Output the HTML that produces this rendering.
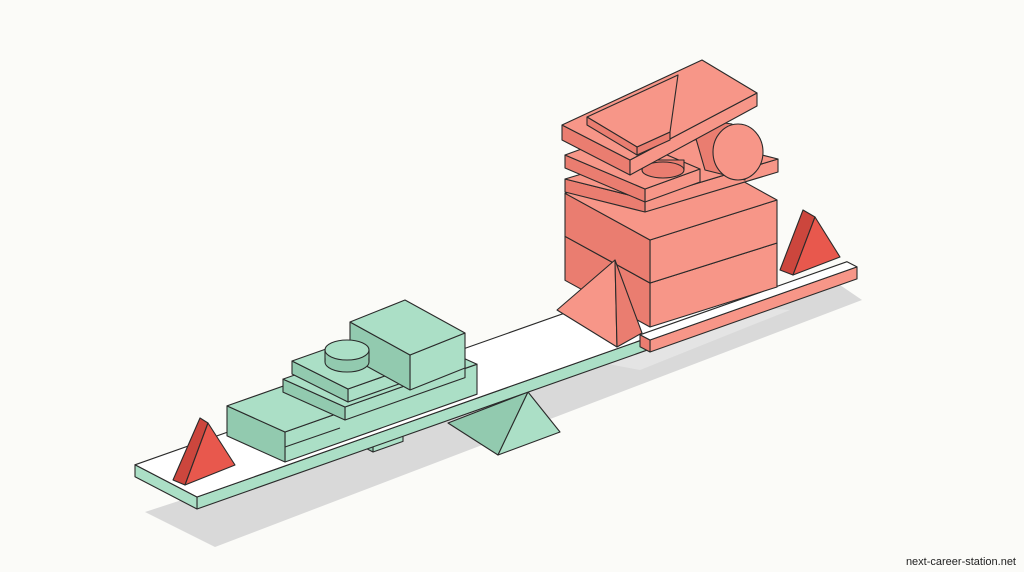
<!DOCTYPE html>
<html><head><meta charset="utf-8"><style>
html,body{margin:0;padding:0;background:#fbfbf8;}
svg{display:block}
.w{position:absolute;right:8px;bottom:4px;font:11px "Liberation Sans",sans-serif;color:#222}
</style></head><body>
<svg id="s" width="1024" height="572" viewBox="0 0 1024 572" xmlns="http://www.w3.org/2000/svg" stroke="#2a2a2a" stroke-width="1.1" stroke-linejoin="round">
<rect x="0" y="0" width="1024" height="572" fill="#fbfbf8" stroke="none"/>
<polygon points="145,512 215,547 862,300 840,285" fill="#d9d9d9" stroke="none"/>
<polygon points="560,355 640,370 790,310 640,300" fill="#e4e4e4" stroke="none"/>
<g id="g"></g>
</svg>
<div class="w">next-career-station.net</div>
<script>
var g=document.getElementById('g'),NS='http://www.w3.org/2000/svg';
function poly(pts,fill){var p=document.createElementNS(NS,'polygon');p.setAttribute('points',pts.map(function(a){return a[0].toFixed(1)+','+a[1].toFixed(1)}).join(' '));p.setAttribute('fill',fill);g.appendChild(p);return p;}
function box(P,L,D,H,top,front,side,r,k){r=r||0.353;k=k||0.52;
 var A=P,B=[P[0]+L,P[1]-L*r],bk=[-D,-D*k];
 function up(p){return [p[0],p[1]-H]} function add(p){return [p[0]+bk[0],p[1]+bk[1]]}
 poly([A,B,up(B),up(A)],front);
 poly([A,add(A),up(add(A)),up(A)],side);
 poly([up(A),up(B),up(add(B)),up(add(A))],top);}
function box3(F,Lb,Rb,H,top,front,side){
 function up(p){return [p[0],p[1]-H]}
 var Bk=[Lb[0]+Rb[0]-F[0],Lb[1]+Rb[1]-F[1]];
 poly([F,Rb,up(Rb),up(F)],front);
 poly([F,Lb,up(Lb),up(F)],side);
 poly([up(F),up(Rb),up(Bk),up(Lb)],top);}
function el(cx,cy,rx,ry,f){var e=document.createElementNS(NS,'ellipse');e.setAttribute('cx',cx);e.setAttribute('cy',cy);e.setAttribute('rx',rx);e.setAttribute('ry',ry);e.setAttribute('fill',f);g.appendChild(e);}
var G='#abdfc6',G2='#92caaf',W='#ffffff',R='#f79688',R2='#ea7d70',T='#e8584d',T2='#cc463d';
// fulcrum
poly([[528,392],[448,423],[498,455]],G2);
poly([[528,392],[498,455],[560,432]],G);
box([373,452],30,8,10,G,G,G2);
// plank
box([197,509],581,62,12,W,G,G);
box([650,352],207,10,12,W,R,R2);
// left triangle
poly([[200,418],[208,423],[185,485],[173,480]],T2);
poly([[208,423],[235,465],[185,485]],T);
// green blocks
box([285,462],192,58,30,G,G,G2,0.353,0.45);
var l=document.createElementNS(NS,'line');l.setAttribute('x1',285);l.setAttribute('y1',447);l.setAttribute('x2',340);l.setAttribute('y2',428);g.appendChild(l);
box([345,420],120,62,13,G,G,G2,0.353,0.45);
box([348,402],62,56,13,G,G,G2,0.353,0.5);
box([410,390],55,60,35,G,G,G2,0.4,0.55);
// cylinder
el(347,362,22,10,G2);
var c=document.createElementNS(NS,'rect');c.setAttribute('x',325.6);c.setAttribute('y',350);c.setAttribute('width',42.8);c.setAttribute('height',12);c.setAttribute('fill',G2);c.setAttribute('stroke','none');g.appendChild(c);
var l2=document.createElementNS(NS,'path');l2.setAttribute('d','M325,350V362M369,350V362');g.appendChild(l2);
el(347,350,22,10,G);
// red stack
box([650,327],127,85,44,R,R,R2,0.315,0.55);
box([650,283],127,85,43,R,R,R2,0.315,0.55);
box3([645,212],[565,192],[778,172],13,R,R,R2);
box3([645,202],[565,168],[700,182],13,R,R,R2);
// small half cylinder
poly([[642,160],[684,160],[684,170],[642,170]],R2);
el(663,170,21,8,R2);
// big cylinder body
poly([[690,118],[732,124],[745,180],[705,170]],R2);
el(738,152,25,28,R);
// top plate
poly([[562,125],[630,160],[630,175],[562,140]],R2);
poly([[630,160],[757,93],[757,106],[630,175]],R);
poly([[562,125],[702,60],[757,93],[630,160]],R);
// wedge
poly([[637,147],[670,132],[670,140],[637,155]],R2);
poly([[587,117],[678,75],[670,132],[637,147]],R);
poly([[587,117],[637,147],[637,155],[587,125]],R2);
// pyramid
poly([[615,260],[557,310],[617,347]],R);
poly([[615,260],[617,347],[642,333]],R2);
// right triangle
poly([[803,210],[815,217],[793,275],[780,270]],T2);
poly([[815,217],[840,257],[793,275]],T);
</script>
</body></html>
